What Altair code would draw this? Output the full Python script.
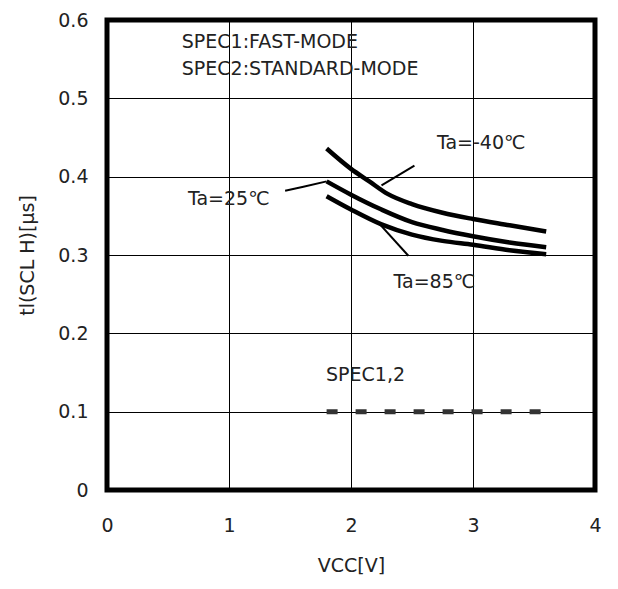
import altair as alt
import pandas as pd

# ---- data ----
vcc_m40 = [1.80, 2.00, 2.15, 2.30, 2.50, 2.75, 3.00, 3.30, 3.60]
t_m40 = [0.436, 0.410, 0.394, 0.378, 0.365, 0.354, 0.346, 0.338, 0.330]

vcc_25 = [1.80, 2.00, 2.25, 2.50, 2.75, 3.00, 3.30, 3.60]
t_25 = [0.394, 0.377, 0.358, 0.342, 0.332, 0.324, 0.316, 0.310]

vcc_85 = [1.80, 2.00, 2.25, 2.50, 2.75, 3.00, 3.30, 3.60]
t_85 = [0.375, 0.358, 0.339, 0.326, 0.318, 0.313, 0.306, 0.301]

spec_vcc = [1.80, 3.56]
spec_t = [0.1, 0.1]

# leader lines (from label to curve)
lead_m40_x = [2.52, 2.25]
lead_m40_y = [0.414, 0.389]
lead_25_x = [1.46, 1.61, 1.80]
lead_25_y = [0.382, 0.387, 0.394]
lead_85_x = [2.215, 2.47]
lead_85_y = [0.343, 0.299]

label_text = ["Ta=-40℃", "Ta=25℃", "Ta=85℃", "SPEC1,2"]
label_x = [3.067, 0.998, 2.683, 2.119]
label_y = [0.443, 0.3715, 0.2655, 0.1468]

note_text = ["SPEC1:FAST-MODE", "SPEC2:STANDARD-MODE"]
note_x = [0.613, 0.613]
note_y = [0.572, 0.538]

x_ticks = [0, 1, 2, 3, 4]
y_ticks = [0, 0.1, 0.2, 0.3, 0.4, 0.5, 0.6]

FONT = "DejaVu Sans"
FS = 19
TXT = "#222222"

curves = pd.concat([
    pd.DataFrame({"vcc": vcc_m40, "t": t_m40, "s": "-40"}),
    pd.DataFrame({"vcc": vcc_25, "t": t_25, "s": "25"}),
    pd.DataFrame({"vcc": vcc_85, "t": t_85, "s": "85"}),
])
leaders = pd.concat([
    pd.DataFrame({"vcc": lead_m40_x, "t": lead_m40_y, "s": "m40"}),
    pd.DataFrame({"vcc": lead_25_x, "t": lead_25_y, "s": "25"}),
    pd.DataFrame({"vcc": lead_85_x, "t": lead_85_y, "s": "85"}),
])
spec = pd.DataFrame({"vcc": spec_vcc, "t": spec_t})
labels = pd.DataFrame({"txt": label_text, "vcc": label_x, "t": label_y})
notes = pd.DataFrame({"txt": note_text, "vcc": note_x, "t": note_y})

xs = alt.Scale(domain=[0, 4], nice=False)
ys = alt.Scale(domain=[0, 0.6], nice=False)

x_enc = alt.X("vcc:Q", scale=xs, axis=alt.Axis(
    values=x_ticks, title="VCC[V]", grid=True, domain=False, ticks=False,
    tickSize=0, labelPadding=26, labelFontSize=FS, labelFont=FONT, labelColor=TXT,
    format="d", gridColor="black", gridWidth=1, gridOpacity=1,
    titleFontSize=FS, titleFont=FONT, titleColor=TXT, titleFontWeight="normal",
    titleBaseline="middle", titleY=75, labelFlush=False))
y_enc = alt.Y("t:Q", scale=ys, axis=alt.Axis(
    values=y_ticks, title="tl(SCL H)[μs]", grid=True, domain=False, ticks=False,
    tickSize=0, labelPadding=19, labelFontSize=FS, labelFont=FONT, labelColor=TXT,
    labelExpr="datum.value == 0 ? '0' : format(datum.value, '.1f')",
    gridColor="black", gridWidth=1, gridOpacity=1,
    titleFontSize=FS, titleFont=FONT, titleColor=TXT, titleFontWeight="normal",
    titleBaseline="middle", titleX=-80, titleY=235, labelFlush=False))

curve_layer = alt.Chart(curves).mark_line(
    color="black", strokeWidth=4.5, interpolate="monotone", strokeCap="butt"
).encode(x=x_enc, y=y_enc, detail="s:N")

leader_layer = alt.Chart(leaders).mark_line(
    color="black", strokeWidth=2
).encode(x="vcc:Q", y="t:Q", detail="s:N")

spec_layer = alt.Chart(spec).mark_line(
    color="#333333", strokeWidth=5, strokeDash=[11, 18], strokeCap="butt"
).encode(x="vcc:Q", y="t:Q")

label_layer = alt.Chart(labels).mark_text(
    font=FONT, fontSize=FS, color=TXT, align="center", baseline="middle"
).encode(x="vcc:Q", y="t:Q", text="txt:N")

note_layer = alt.Chart(notes).mark_text(
    font=FONT, fontSize=FS, color=TXT, align="left", baseline="middle"
).encode(x="vcc:Q", y="t:Q", text="txt:N")

chart = alt.layer(
    curve_layer, leader_layer, spec_layer, label_layer, note_layer
).properties(
    width=488, height=470,
    background="white",
    autosize=alt.AutoSizeParams(type="none"),
    padding={"left": 99, "top": 12, "right": 15, "bottom": 91},
).configure_view(
    stroke="black", strokeWidth=5
).configure_axis(
    gridColor="black", gridWidth=1, gridOpacity=1
)

chart.save("out.html", embed_options={"renderer": "svg", "actions": False})
